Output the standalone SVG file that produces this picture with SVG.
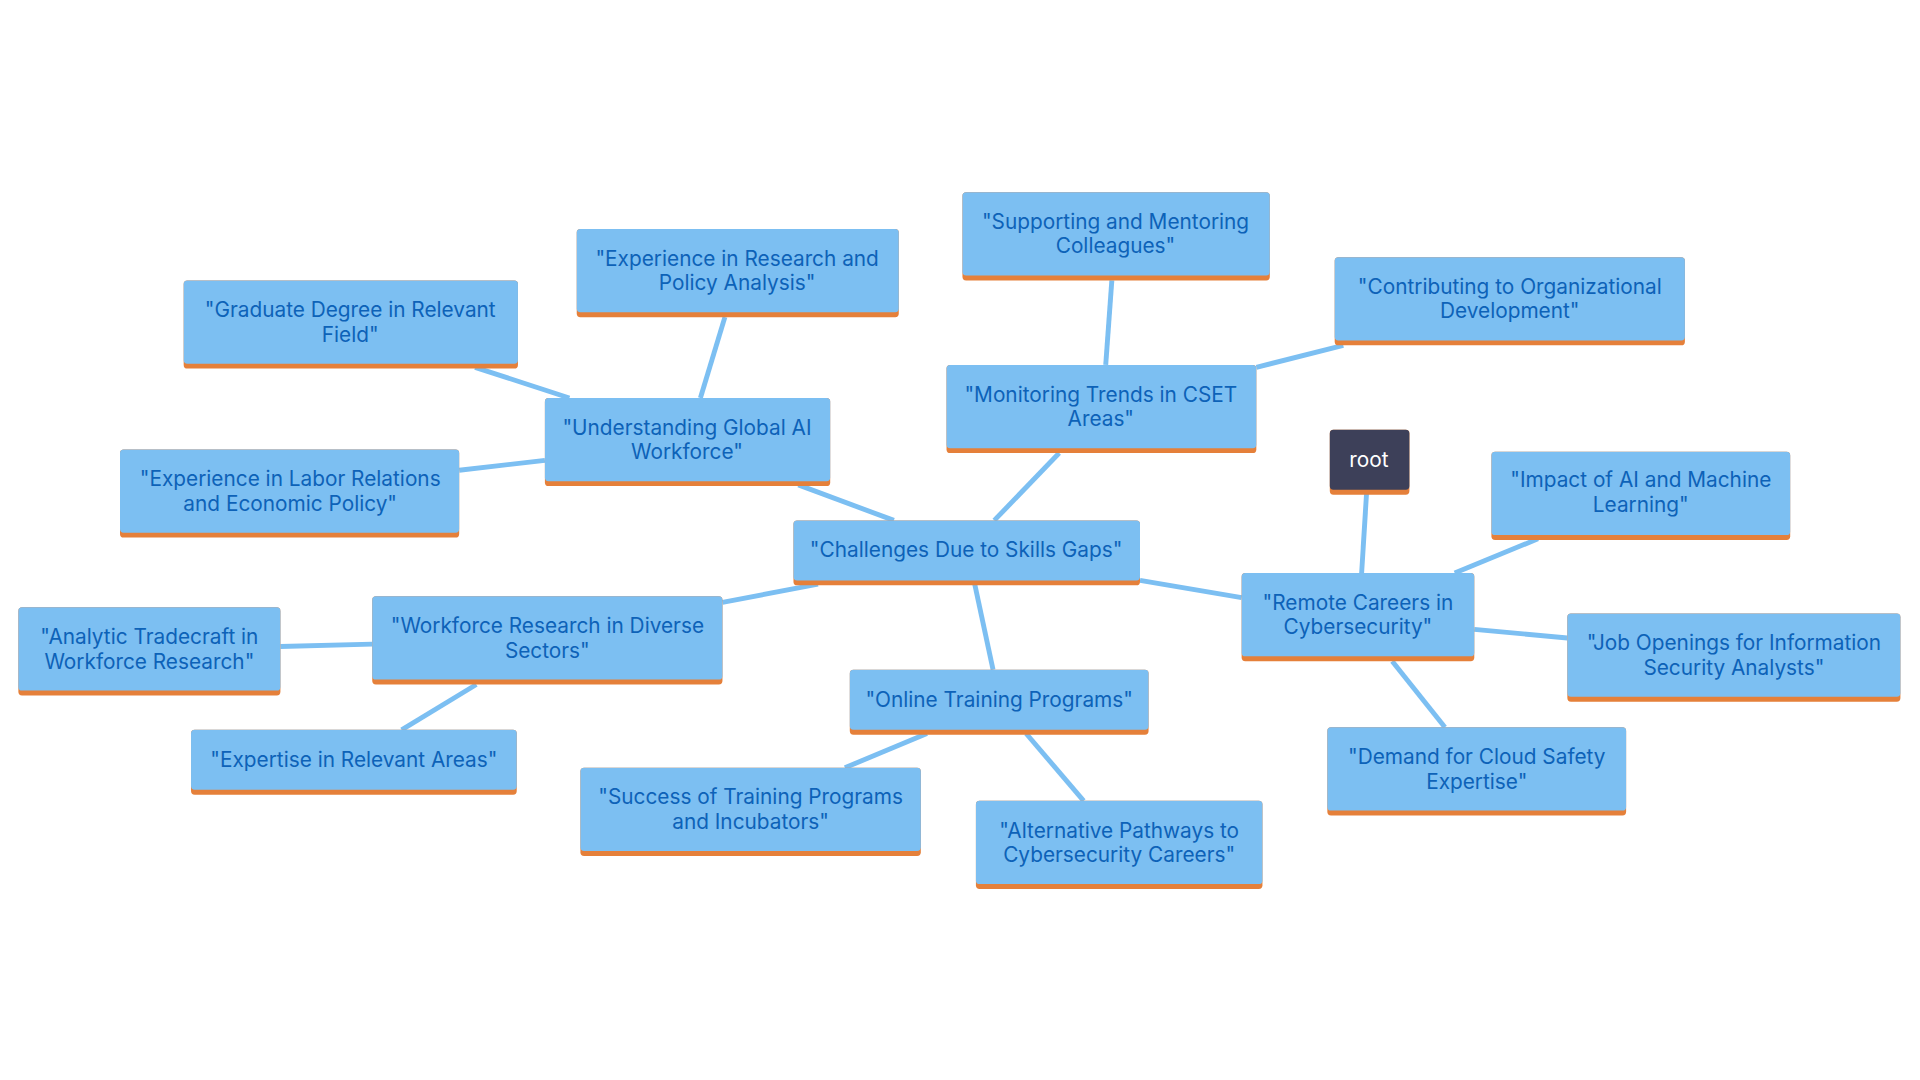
<svg xmlns="http://www.w3.org/2000/svg" width="1920" height="1080" viewBox="0 0 1920 1080">
<style>
.n rect.b{fill:#7cbff2}
.n rect.o{fill:#e5803a}
.n text{font-family:Inter,"Noto Sans",sans-serif;font-size:17px;fill:#0d62b8;text-anchor:middle}
#edges line{stroke:#7cbff2;stroke-width:4}
</style>
<rect width="1920" height="1080" fill="#fff"/>
<g transform="scale(1.22449)">
<g id="edges">
<line x1="730" y1="425" x2="652" y2="396"/>
<line x1="572" y1="325" x2="592" y2="259"/>
<line x1="465" y1="325" x2="388" y2="300"/>
<line x1="445" y1="376" x2="375" y2="384"/>
<line x1="812" y1="425" x2="865" y2="370"/>
<line x1="903" y1="298" x2="908" y2="229"/>
<line x1="1026" y1="300" x2="1097" y2="282"/>
<line x1="931" y1="474" x2="1014" y2="488"/>
<line x1="1112" y1="468" x2="1116" y2="403"/>
<line x1="1188" y1="468" x2="1256" y2="440"/>
<line x1="1204" y1="514" x2="1280" y2="521"/>
<line x1="1137" y1="540" x2="1180" y2="594"/>
<line x1="796" y1="477" x2="811" y2="547"/>
<line x1="668" y1="477" x2="590" y2="492"/>
<line x1="304" y1="526" x2="229" y2="528"/>
<line x1="389" y1="559" x2="328" y2="596"/>
<line x1="757" y1="599" x2="690" y2="627"/>
<line x1="838" y1="599" x2="885" y2="654"/>
</g>
<g id="graduate" class="n"><rect class="o" x="150" y="229" width="273" height="72" rx="3"/><rect class="b" x="150" y="229" width="273" height="68" rx="3"/><text x="286" y="259">"Graduate Degree in Relevant</text><text x="286" y="279">Field"</text></g>
<g id="research" class="n"><rect class="o" x="471" y="187" width="263" height="72" rx="3"/><rect class="b" x="471" y="187" width="263" height="68" rx="3"/><text x="602" y="217">"Experience in Research and</text><text x="602" y="237">Policy Analysis"</text></g>
<g id="supporting" class="n"><rect class="o" x="786" y="157" width="251" height="72" rx="3"/><rect class="b" x="786" y="157" width="251" height="68" rx="3"/><text x="911" y="187">"Supporting and Mentoring</text><text x="911" y="207">Colleagues"</text></g>
<g id="contributing" class="n"><rect class="o" x="1090" y="210" width="286" height="72" rx="3"/><rect class="b" x="1090" y="210" width="286" height="68" rx="3"/><text x="1233" y="240">"Contributing to Organizational</text><text x="1233" y="260">Development"</text></g>
<g id="monitoring" class="n"><rect class="o" x="773" y="298" width="253" height="72" rx="3"/><rect class="b" x="773" y="298" width="253" height="68" rx="3"/><text x="899" y="328">"Monitoring Trends in CSET</text><text x="899" y="348">Areas"</text></g>
<g id="understanding" class="n"><rect class="o" x="445" y="325" width="233" height="72" rx="3"/><rect class="b" x="445" y="325" width="233" height="68" rx="3"/><text x="561" y="355">"Understanding Global AI</text><text x="561" y="375">Workforce"</text></g>
<g id="labor" class="n"><rect class="o" x="98" y="367" width="277" height="72" rx="3"/><rect class="b" x="98" y="367" width="277" height="68" rx="3"/><text x="237" y="397">"Experience in Labor Relations</text><text x="237" y="417">and Economic Policy"</text></g>
<g id="root" class="n"><rect class="o" x="1086" y="351" width="65" height="53" rx="3"/><rect x="1086" y="351" width="65" height="49" rx="3" fill="#3d4059"/><text x="1118" y="381" style="fill:#fff">root</text></g>
<g id="impact" class="n"><rect class="o" x="1218" y="369" width="244" height="72" rx="3"/><rect class="b" x="1218" y="369" width="244" height="68" rx="3"/><text x="1340" y="398">"Impact of AI and Machine</text><text x="1340" y="418">Learning"</text></g>
<g id="challenges" class="n"><rect class="o" x="648" y="425" width="283" height="53" rx="3"/><rect class="b" x="648" y="425" width="283" height="49" rx="3"/><text x="789" y="455">"Challenges Due to Skills Gaps"</text></g>
<g id="remote" class="n"><rect class="o" x="1014" y="468" width="190" height="72" rx="3"/><rect class="b" x="1014" y="468" width="190" height="68" rx="3"/><text x="1109" y="498">"Remote Careers in</text><text x="1109" y="518">Cybersecurity"</text></g>
<g id="job" class="n"><rect class="o" x="1280" y="501" width="272" height="72" rx="3"/><rect class="b" x="1280" y="501" width="272" height="68" rx="3"/><text x="1416" y="531">"Job Openings for Information</text><text x="1416" y="551">Security Analysts"</text></g>
<g id="analytic" class="n"><rect class="o" x="15" y="496" width="214" height="72" rx="3"/><rect class="b" x="15" y="496" width="214" height="68" rx="3"/><text x="122" y="526">"Analytic Tradecraft in</text><text x="122" y="546">Workforce Research"</text></g>
<g id="workforce" class="n"><rect class="o" x="304" y="487" width="286" height="72" rx="3"/><rect class="b" x="304" y="487" width="286" height="68" rx="3"/><text x="447" y="517">"Workforce Research in Diverse</text><text x="447" y="537">Sectors"</text></g>
<g id="online" class="n"><rect class="o" x="694" y="547" width="244" height="53" rx="3"/><rect class="b" x="694" y="547" width="244" height="49" rx="3"/><text x="816" y="577">"Online Training Programs"</text></g>
<g id="expertise" class="n"><rect class="o" x="156" y="596" width="266" height="53" rx="3"/><rect class="b" x="156" y="596" width="266" height="49" rx="3"/><text x="289" y="626">"Expertise in Relevant Areas"</text></g>
<g id="success" class="n"><rect class="o" x="474" y="627" width="278" height="72" rx="3"/><rect class="b" x="474" y="627" width="278" height="68" rx="3"/><text x="613" y="657">"Success of Training Programs</text><text x="613" y="677">and Incubators"</text></g>
<g id="alternative" class="n"><rect class="o" x="797" y="654" width="234" height="72" rx="3"/><rect class="b" x="797" y="654" width="234" height="68" rx="3"/><text x="914" y="684">"Alternative Pathways to</text><text x="914" y="704">Cybersecurity Careers"</text></g>
<g id="demand" class="n"><rect class="o" x="1084" y="594" width="244" height="72" rx="3"/><rect class="b" x="1084" y="594" width="244" height="68" rx="3"/><text x="1206" y="624">"Demand for Cloud Safety</text><text x="1206" y="644">Expertise"</text></g>
</g>
</svg>
